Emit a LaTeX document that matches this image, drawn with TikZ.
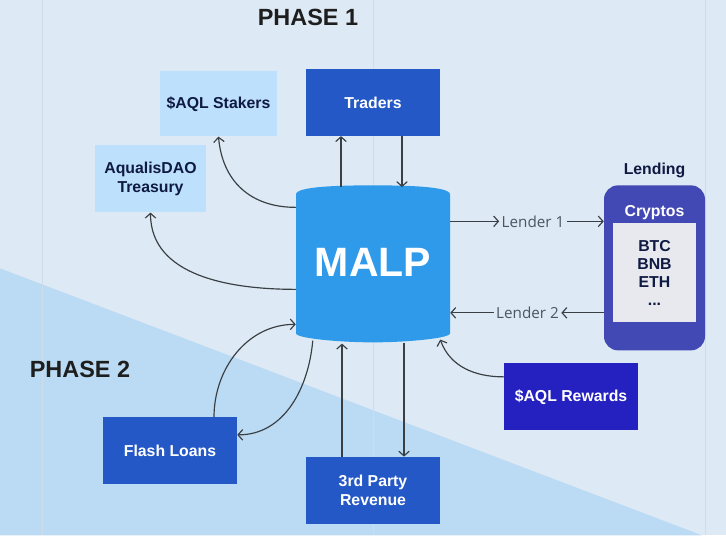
\documentclass[tikz,border=0pt]{standalone}
\usepackage{fontspec}
\setmainfont{Liberation Sans}
\newfontfamily\lenderfont{Open Sans}
\usetikzlibrary{calc,arrows.meta}
\definecolor{bgtop}{HTML}{DDE9F4}
\definecolor{bgbot}{HTML}{BADBF3}
\definecolor{gridline}{HTML}{D0DDE9}
\definecolor{paleblue}{HTML}{BDE0FC}
\definecolor{midblue}{HTML}{2458C6}
\definecolor{deepblue}{HTML}{2520C0}
\definecolor{malpblue}{HTML}{2F9AEA}
\definecolor{indigobox}{HTML}{4349B4}
\definecolor{coinfill}{HTML}{E8E9EE}
\definecolor{navytext}{HTML}{0F1A42}
\definecolor{phasetext}{HTML}{1E1E1E}
\definecolor{lendergray}{HTML}{4C5660}
\definecolor{linegray}{HTML}{3A3F44}

\begin{document}
\begin{tikzpicture}[x=0.03cm,y=-0.03cm,
	boxtext/.style={font=\fontsize{13.5}{16}\selectfont\bfseries,align=center,inner sep=0pt},
	pale/.style={boxtext,fill=paleblue,text=navytext},
	dark/.style={boxtext,fill=midblue,text=white,minimum width=4.02cm,minimum height=2.01cm},
	phase/.style={font=\fontsize{20}{24}\selectfont\bfseries,text=phasetext},
	lender/.style={font=\lenderfont\fontsize{13}{15}\selectfont,text=lendergray,inner sep=2pt},
	flow/.style={draw=linegray,line width=1pt,-{Straight Barb[length=4pt,width=9pt]}}]
			\fill[bgtop] (0,0) rectangle (726,535);
			\fill[bgbot] (0,268) -- (702,535) -- (0,535) -- cycle;
			\draw[gridline,line width=0.6pt] (42,0) -- (42,535) (373,0) -- (373,535) (705,0) -- (705,535);
			\useasboundingbox (0,0) rectangle (726,535);
			\node[phase] (phaseone) at (308,17) {PHASE 1};
			\node[phase] (phasetwo) at (80,369) {PHASE 2};
			\node[pale,minimum width=3.51cm,minimum height=1.95cm] (stakers) at (218.5,103.5) {\$AQL Stakers};
			\node[pale,minimum width=3.33cm,minimum height=2.01cm] (treasury) at (150.5,178.5) {AqualisDAO\\Treasury};
			\node[dark] (traders) at (373,102) {Traders};
			\node[dark] (flash) at (170,450.5) {Flash Loans};
			\node[dark] (revenue) at (373,490) {3rd Party\\Revenue};
			\node[dark,fill=deepblue] (rewards) at (571,396.5) {\$AQL Rewards};
			\fill[malpblue] (296,194) .. controls (296,186) and (340,185) .. (373,185)
			.. controls (406,185) and (450,186) .. (450,194) -- (450,333)
			.. controls (450,338) and (406,342) .. (373,342)
			.. controls (340,342) and (296,338) .. (296,333) -- cycle;
			\node[font=\fontsize{35}{40}\selectfont\bfseries,text=white,minimum width=4.62cm,minimum height=4.5cm,inner sep=0pt] (malp) at (373,262) {MALP};
			\node[fill=indigobox,rounded corners=0.42cm,minimum width=3.03cm,minimum height=4.95cm] (lendbox) at (654.5,267.5) {};
			\node[boxtext,text=white] (cryptos) at (654.5,212) {Cryptos};
			\node[boxtext,fill=coinfill,text=navytext,minimum width=2.49cm,minimum height=2.97cm,font=\fontsize{13.5}{15.5}\selectfont\bfseries] (coins) at (654.5,272.5) {BTC\\BNB\\ETH\\...};
			\node[boxtext,text=navytext] (lending) at (654.5,170) {Lending};
			\node[lender] (lenderone) at (533,221) {Lender 1};
			\node[lender] (lendertwo) at (527.5,312.5) {Lender 2};
			\draw[flow] ($(malp.north)+(-32,0)$) -- ($(traders.south)+(-32,0)$);
			\draw[flow] ($(traders.south)+(29,0)$) -- ($(malp.north)+(29,0)$);
			\draw[flow] ($(malp.west)+(0,-55)$) to[out=180,in=-85,looseness=1.1] (stakers.south);
			\draw[flow] ($(malp.west)+(0,27)$) to[out=180,in=-90] (treasury.south);
			\draw[flow] ($(flash.north)+(44,0)$) to[out=90,in=180] ($(malp.west)+(0,62)$);
			\draw[flow] ($(malp.south west)+(17,3)$) to[out=-95,in=0] ($(flash.east)+(0,-16)$);
			\draw[flow] ($(revenue.north)+(-31,0)$) -- ($(malp.south)+(-31,6)$);
			\draw[flow] ($(malp.south)+(31,5)$) -- ($(revenue.north)+(31,0)$);
			\draw[flow] ($(rewards.west)+(0,-20)$) to[out=180,in=-70] ($(malp.south east)+(-10,2)$);
			\draw[flow] (malp.east |- lenderone) -- (lenderone.west);
			\draw[flow] (lenderone.east) -- (lendbox.west |- lenderone);
			\draw[flow] (lendbox.west |- lendertwo) -- (lendertwo.east);
			\draw[flow] (lendertwo.west) -- (malp.east |- lendertwo);
			\end{tikzpicture}
\end{document}
